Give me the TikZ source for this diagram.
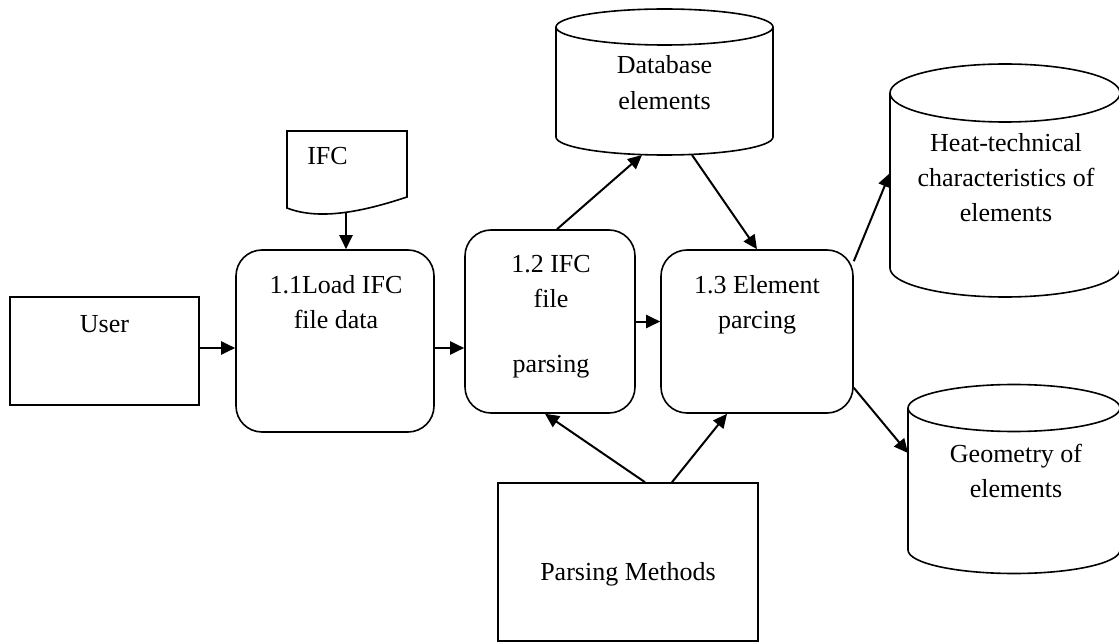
\documentclass[tikz,border=0pt]{standalone}
\usepackage{fontspec}
\setmainfont{Liberation Serif}
\usetikzlibrary{arrows.meta}
\newcommand\mycyl[5]{%
  \draw[shp] (#1-#4,#2) -- (#1-#4,#3) arc[start angle=180, end angle=360, x radius=#4, y radius=#5] -- (#1+#4,#2);
  \draw[shp] (#1,#2) ellipse[x radius=#4, y radius=#5];}
\begin{document}
\begin{tikzpicture}[x=1pt,y=1pt,
  shp/.style={draw, line width=1.6pt},
  sqbox/.style={shp, rectangle, inner sep=0pt},
  rndbox/.style={shp, rectangle, rounded corners=26pt, inner sep=0pt},
  txt/.style={anchor=base, inner sep=0pt, font=\fontsize{26}{35}\selectfont},
  arr/.style={line width=2pt, -{Triangle[length=14pt,width=13pt]}}]
\useasboundingbox (0,0) rectangle (1119,641);

% boxes
\node[sqbox, minimum width=189, minimum height=108] (user) at (104.5,290) {};
\node[rndbox, minimum width=198, minimum height=182] (b11) at (335,300) {};
\node[rndbox, minimum width=170, minimum height=183] (b12) at (550,319.5) {};
\node[rndbox, minimum width=192, minimum height=163] (b13) at (757,309.5) {};
\node[sqbox, minimum width=260, minimum height=158] (pm) at (628,79) {};

% document
\draw[shp] (287,433) -- (287,510) -- (407,510) -- (407,444) .. controls (365,430) and (320,420) .. cycle;
\coordinate (ifcbot) at (346,429);

% cylinders
\mycyl{664.5}{614}{504}{108.5}{18}
\mycyl{1005}{548}{373}{115}{29}
\mycyl{1014}{233}{91}{106}{23.5}
\coordinate (dbin) at (642,486);
\coordinate (dbout) at (692,486);
\coordinate (heatin) at (890,468);
\coordinate (geomin) at (908,188);

% texts
\node[txt] (tifc) at (327.5,476) {IFC};
\node[txt] (tuser) at (104.5,309) {User};
\node[txt] (t11a) at (336,348) {1.1Load IFC};
\node[txt] (t11b) at (336,313) {file data};
\node[txt] (t12a) at (551,369) {1.2 IFC};
\node[txt] (t12b) at (551,334) {file};
\node[txt] (t12c) at (551,269) {parsing};
\node[txt] (t13a) at (757,348) {1.3 Element};
\node[txt] (t13b) at (757,313) {parcing};
\node[txt] (tdb1) at (664.5,567) {Database};
\node[txt] (tdb2) at (664.5,531) {elements};
\node[txt] (th1) at (1006,489) {Heat-technical};
\node[txt] (th2) at (1006,454) {characteristics of};
\node[txt] (th3) at (1006,419) {elements};
\node[txt] (tg1) at (1016,179) {Geometry of};
\node[txt] (tg2) at (1016,144) {elements};
\node[txt] (tpm) at (628,61) {Parsing Methods};

% connectors
\draw[arr] ([yshift=3]user.east) -- ([yshift=3]user.east -| b11.west);
\draw[arr] ([yshift=-7]b11.east) -- ([yshift=-7]b11.east -| b12.west);
\draw[arr] (b12.east) -- (b12.east -| b13.west);
\draw[arr] (ifcbot) -- (ifcbot |- b11.north);
\draw[arr] ([xshift=7]b12.north) -- (dbin);
\draw[arr] (dbout) -- (b13.north);
\draw[arr] ([yshift=-12]b13.north east) -- (heatin);
\draw[arr] ([yshift=26]b13.south east) -- (geomin);
\draw[arr] ([xshift=17]pm.north) -- ([xshift=-5]b12.south);
\draw[arr] ([xshift=44]pm.north) -- ([xshift=-30]b13.south);
\end{tikzpicture}
\end{document}
